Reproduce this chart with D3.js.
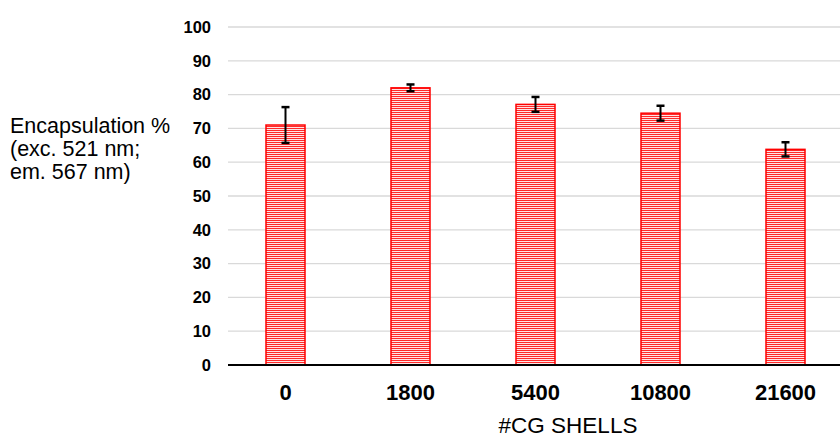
<!DOCTYPE html>
<html>
<head>
<meta charset="utf-8">
<script src="https://cdn.jsdelivr.net/npm/d3@7"></script>
<style>
  html, body { margin: 0; padding: 0; background: #fff; }
  svg { display: block; }
</style>
</head>
<body>
<svg id="chart" width="840" height="439"></svg>
<script>
const categories = ["0", "1800", "5400", "10800", "21600"];
const values = [71.0, 82.0, 77.1, 74.5, 63.8];
const errors = [5.3, 1.0, 2.2, 2.2, 2.1];
const yTicks = [0, 10, 20, 30, 40, 50, 60, 70, 80, 90, 100];
const yTitleLines = ["Encapsulation %", "(exc. 521 nm;", "em. 567 nm)"];
const xTitle = "#CG SHELLS";

const svg = d3.select("#chart");
const font = "'Liberation Sans', Arial, sans-serif";

const defs = svg.append("defs");
const pat = defs.append("pattern")
  .attr("id", "stripes")
  .attr("patternUnits", "userSpaceOnUse")
  .attr("width", 8).attr("height", 2);
pat.append("rect").attr("width", 8).attr("height", 2).attr("fill", "#ffe4e4");
pat.append("rect").attr("width", 8).attr("height", 1).attr("fill", "#ff2a2a");

const y = d3.scaleLinear().domain([0, 100]).range([365, 27]);
const x = d3.scaleBand().domain(categories).range([223, 848]).padding(0);
const barW = 39;

// gridlines
svg.append("g").selectAll("line").data(yTicks.filter(t => t > 0)).join("line")
  .attr("x1", 228).attr("x2", 840)
  .attr("y1", d => y(d)).attr("y2", d => y(d))
  .attr("stroke", "#d9d9d9").attr("stroke-width", 1.3);

// y tick labels
svg.append("g").selectAll("text").data(yTicks).join("text")
  .attr("x", 211).attr("y", d => y(d) + 5.8)
  .attr("text-anchor", "end")
  .attr("font-family", font).attr("font-weight", "bold").attr("font-size", 16.5)
  .attr("fill", "#000")
  .text(d => d);

// bars
svg.append("g").selectAll("rect").data(categories).join("rect")
  .attr("x", d => x(d) + x.bandwidth() / 2 - barW / 2)
  .attr("width", barW)
  .attr("y", (d, i) => y(values[i]))
  .attr("height", (d, i) => y(0) - y(values[i]))
  .attr("fill", "url(#stripes)")
  .attr("stroke", "#ff0000").attr("stroke-width", 1.5);

// x axis line
svg.append("line")
  .attr("x1", 228).attr("x2", 840).attr("y1", y(0)).attr("y2", y(0))
  .attr("stroke", "#000").attr("stroke-width", 2);

// error bars
const eg = svg.append("g");
categories.forEach((c, i) => {
  const cx = x(c) + x.bandwidth() / 2;
  const top = y(values[i] + errors[i]);
  const bot = y(values[i] - errors[i]);
  eg.append("line").attr("x1", cx).attr("x2", cx).attr("y1", top).attr("y2", bot)
    .attr("stroke", "#000").attr("stroke-width", 2);
  [top, bot].forEach(yy => {
    eg.append("line").attr("x1", cx - 4).attr("x2", cx + 4).attr("y1", yy).attr("y2", yy)
      .attr("stroke", "#000").attr("stroke-width", 2.5);
  });
});

// x tick labels
svg.append("g").selectAll("text").data(categories).join("text")
  .attr("x", d => x(d) + x.bandwidth() / 2)
  .attr("y", 400)
  .attr("text-anchor", "middle")
  .attr("font-family", font).attr("font-weight", "bold").attr("font-size", 22)
  .attr("fill", "#000")
  .text(d => d);

// x title
svg.append("text")
  .attr("x", 568).attr("y", 433)
  .attr("text-anchor", "middle")
  .attr("font-family", font).attr("font-size", 22.5)
  .attr("fill", "#000")
  .text(xTitle);

// y title
svg.append("g").selectAll("text").data(yTitleLines).join("text")
  .attr("x", 10).attr("y", (d, i) => 133 + i * 23.2)
  .attr("font-family", font).attr("font-size", 21.5)
  .attr("fill", "#000")
  .text(d => d);
</script>
</body>
</html>
